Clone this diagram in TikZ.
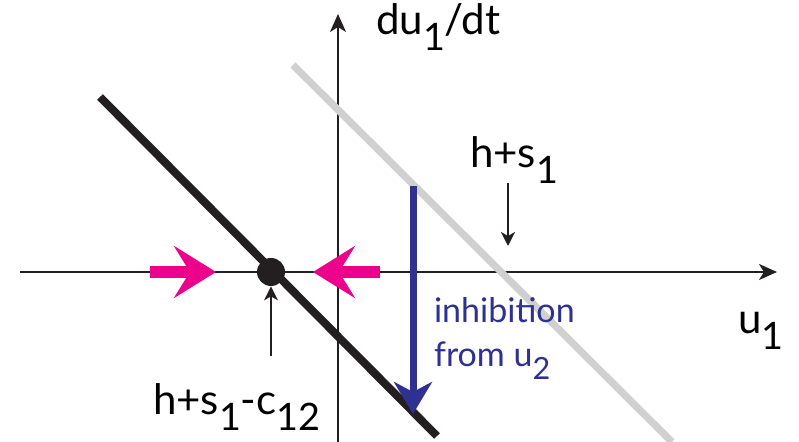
\documentclass[tikz,border=0pt]{standalone}
\usepackage{fontspec}
\setmainfont{Lato}
\usetikzlibrary{arrows.meta}
\definecolor{ink}{HTML}{231F20}
\definecolor{magentapink}{HTML}{EC008C}
\definecolor{indigo}{HTML}{2E3192}
\definecolor{palegray}{HTML}{D0D0D0}
\newcommand{\lsub}[1]{\raisebox{-0.38em}{\scalebox{0.9}{#1}}}

\begin{document}
\begin{tikzpicture}[x=0.5pt,y=-0.5pt,font=\fontsize{21}{25}\selectfont,
    axis/.style={ink,line width=0.9pt,-{Stealth[length=9pt,width=8pt,inset=2.5pt]}},
    pointer/.style={ink,line width=0.8pt,-{Stealth[length=7pt,width=7pt,inset=2pt]}},
    flow/.style={magentapink,line width=6pt,-{Stealth[length=21pt,width=26pt,inset=8pt]}}]
  \useasboundingbox (0,0) rectangle (799,442);
  % axes
  \coordinate (xl) at (20,272);
  \coordinate (xr) at (777,272);
  \coordinate (yb) at (338,442);
  \coordinate (yt) at (338,14);
  \draw[axis] (xl) -- (xr);
  \draw[axis] (yb) -- (yt);
  \node[anchor=base west] (ylab) at (369,35) {du\lsub{1}/dt};
  \node[anchor=base west] (xlab) at (731,334) {u\lsub{1}};
  % nullcline without and with inhibition
  \coordinate (ga) at (293,65);
  \coordinate (gb) at (672,442);
  \draw[palegray,line width=3.6pt] (ga) -- (gb);
  \coordinate (ba) at (100,97);
  \coordinate (bb) at (437,436);
  \draw[ink,line width=4pt] (ba) -- (bb);
  % fixed point and flow
  \node[circle,fill=ink,inner sep=0pt,minimum size=14pt] (fp) at (271,272) {};
  \coordinate (fla) at (150,272);
  \coordinate (flb) at (216,272);
  \coordinate (fra) at (380,272);
  \coordinate (frb) at (313,272);
  \draw[flow] (fla) -- (flb);
  \draw[flow] (fra) -- (frb);
  % inhibition from u2
  \coordinate (ia) at (413,186);
  \coordinate (ib) at (413,414);
  \draw[indigo,line width=3.5pt,-{Stealth[length=16pt,width=19pt,inset=5pt]}] (ia) -- (ib);
  \node[indigo,anchor=base west,align=left,font=\fontsize{17}{22}\selectfont] (inh) at (427,367)
    {inhibition\\from u\lsub{2}};
  % labels
  \node[anchor=base west] (hs) at (463,168) {h+s\lsub{1}};
  \coordinate (hsa) at (508,183);
  \coordinate (hsb) at (508,246);
  \draw[pointer] (hsa) -- (hsb);
  \node[anchor=base west] (hsc) at (146,415) {h+s\lsub{1}-c\lsub{12}};
  \coordinate (fpa) at (271,356);
  \draw[pointer] (fpa) -- (fp);
\end{tikzpicture}
\end{document}
